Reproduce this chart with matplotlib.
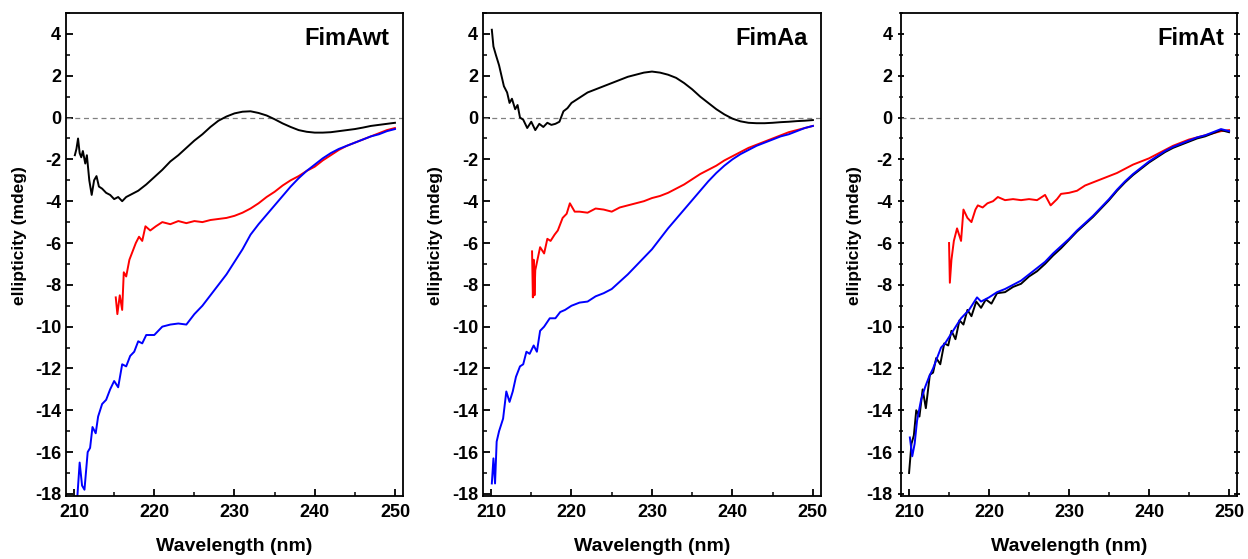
import matplotlib
matplotlib.use("Agg")
from matplotlib import pyplot as plt
from matplotlib.ticker import MultipleLocator

plt.rcParams['font.family'] = ['Liberation Sans', 'DejaVu Sans']
plt.rcParams['font.weight'] = 'bold'
plt.rcParams['axes.unicode_minus'] = False

# ---- FimAwt ----
wt_black_x = [210.1, 210.3, 210.5, 210.7, 210.9, 211.1, 211.4, 211.6, 211.9, 212.2, 212.5, 212.8, 213.1, 213.5,
              214, 214.5, 215, 215.5, 216, 216.5, 217, 218, 219, 220, 221, 222, 223, 224, 225, 226, 227, 228,
              229, 230, 231, 232, 233, 234, 235, 236, 237, 238, 239, 240, 241, 242, 243, 244, 245, 246, 247,
              248, 249, 250]
wt_black_y = [-1.8, -1.5, -1.0, -1.7, -1.9, -1.6, -2.2, -1.8, -3.0, -3.7, -3.0, -2.8, -3.3, -3.4,
              -3.6, -3.7, -3.9, -3.8, -4.0, -3.8, -3.7, -3.5, -3.2, -2.85, -2.5, -2.1, -1.8, -1.45, -1.1, -0.8,
              -0.45, -0.15, 0.05, 0.2, 0.28, 0.3, 0.22, 0.1, -0.08, -0.28, -0.45, -0.6, -0.68, -0.72, -0.72,
              -0.7, -0.65, -0.6, -0.55, -0.48, -0.4, -0.35, -0.3, -0.25]
wt_red_x = [215.2, 215.4, 215.7, 216.0, 216.2, 216.5, 216.9, 217.3, 217.7, 218.1, 218.5, 218.9, 219.5, 220.2,
            221, 222, 223, 224, 225, 226, 227, 228, 229, 230, 231, 232, 233, 234, 235, 236, 237, 238, 239,
            240, 241, 242, 243, 244, 245, 246, 247, 248, 249, 250]
wt_red_y = [-8.6, -9.4, -8.5, -9.2, -7.4, -7.6, -6.8, -6.4, -6.0, -5.7, -5.9, -5.2, -5.4, -5.2,
            -5.0, -5.1, -4.95, -5.05, -4.95, -5.0, -4.9, -4.85, -4.8, -4.7, -4.55, -4.35, -4.1, -3.8, -3.55,
            -3.25, -3.0, -2.8, -2.55, -2.35, -2.05, -1.8, -1.55, -1.35, -1.2, -1.05, -0.9, -0.75, -0.6, -0.5]
wt_blue_x = [210.4, 210.7, 211.0, 211.3, 211.7, 212.0, 212.3, 212.7, 213.0, 213.5, 214.0, 214.5, 215.0, 215.5,
             216.0, 216.5, 217.0, 217.5, 218.0, 218.5, 219.0, 220, 221, 222, 223, 224, 225, 226, 227, 228, 229,
             230, 231, 232, 233, 234, 235, 236, 237, 238, 239, 240, 241, 242, 243, 244, 245, 246, 247, 248,
             249, 250]
wt_blue_y = [-18.2, -16.5, -17.6, -17.8, -16.0, -15.8, -14.8, -15.1, -14.3, -13.7, -13.5, -13.0, -12.6, -12.9,
             -11.8, -11.9, -11.4, -11.2, -10.7, -10.8, -10.4, -10.4, -10.0, -9.9, -9.85, -9.9, -9.4, -9.0,
             -8.5, -8.0, -7.5, -6.9, -6.3, -5.6, -5.1, -4.65, -4.2, -3.75, -3.3, -2.9, -2.55, -2.25, -1.95,
             -1.7, -1.5, -1.35, -1.2, -1.05, -0.9, -0.8, -0.65, -0.55]

# ---- FimAa ----
aa_black_x = [210.1, 210.3, 210.6, 211.0, 211.3, 211.6, 212.0, 212.3, 212.6, 213.0, 213.3, 213.6, 214.0, 214.5,
              215.0, 215.5, 216.0, 216.5, 217.0, 217.5, 218.0, 218.5, 219.0, 219.5, 220, 221, 222, 223, 224,
              225, 226, 227, 228, 229, 230, 231, 232, 233, 234, 235, 236, 237, 238, 239, 240, 241, 242, 243,
              244, 245, 246, 247, 248, 249, 250]
aa_black_y = [4.2, 3.4, 3.0, 2.5, 2.0, 1.5, 1.2, 0.7, 0.9, 0.4, 0.6, 0.0, -0.1, -0.5,
              -0.2, -0.6, -0.3, -0.45, -0.25, -0.35, -0.3, -0.2, 0.3, 0.45, 0.7, 0.95, 1.2, 1.35, 1.5,
              1.65, 1.8, 1.95, 2.05, 2.15, 2.2, 2.15, 2.05, 1.9, 1.65, 1.35, 1.0, 0.7, 0.4, 0.15, -0.05,
              -0.18, -0.25, -0.27, -0.27, -0.25, -0.22, -0.2, -0.17, -0.15, -0.12]
aa_red_x = [215.1, 215.2, 215.3, 215.4, 215.5, 216.1, 216.6, 217.0, 217.4, 217.9, 218.3, 218.9, 219.4, 219.8,
            220.4, 221, 222, 223, 224, 225, 226, 227, 228, 229, 230, 231, 232, 233, 234, 235, 236, 237, 238,
            239, 240, 241, 242, 243, 244, 245, 246, 247, 248, 249, 250]
aa_red_y = [-6.4, -8.6, -6.8, -8.5, -7.3, -6.2, -6.5, -5.8, -5.9, -5.6, -5.4, -4.8, -4.6, -4.1,
            -4.5, -4.5, -4.55, -4.35, -4.4, -4.5, -4.3, -4.2, -4.1, -4.0, -3.85, -3.75, -3.6, -3.4, -3.2,
            -2.95, -2.7, -2.5, -2.3, -2.05, -1.85, -1.65, -1.45, -1.3, -1.15, -1.0, -0.85, -0.7, -0.6,
            -0.5, -0.4]
aa_blue_x = [210.1, 210.3, 210.5, 210.7, 211.0, 211.5, 211.9, 212.3, 212.7, 213.1, 213.6, 214.0, 214.4, 214.8,
             215.3, 215.7, 216.1, 216.6, 217.3, 218.0, 218.6, 219.2, 220, 221, 222, 223, 224, 225, 226, 227,
             228, 229, 230, 231, 232, 233, 234, 235, 236, 237, 238, 239, 240, 241, 242, 243, 244, 245, 246,
             247, 248, 249, 250]
aa_blue_y = [-17.5, -16.3, -17.5, -15.5, -15.0, -14.4, -13.1, -13.6, -13.1, -12.4, -11.9, -11.8, -11.2, -11.3,
             -10.9, -11.2, -10.2, -10.0, -9.6, -9.6, -9.3, -9.2, -9.0, -8.85, -8.8, -8.55, -8.4, -8.2, -7.85,
             -7.5, -7.1, -6.7, -6.3, -5.8, -5.3, -4.85, -4.4, -3.95, -3.5, -3.05, -2.65, -2.3, -2.0, -1.75,
             -1.55, -1.35, -1.2, -1.05, -0.9, -0.8, -0.65, -0.5, -0.4]

# ---- FimAt ----
at_red_x = [215.0, 215.1, 215.3, 215.6, 216.0, 216.5, 216.8, 217.3, 217.8, 218.3, 218.6, 219.2, 219.8, 220.5,
            221.1, 222, 223, 224, 225, 226, 227, 227.7, 228.5, 229, 230, 231, 232, 233, 234, 235, 236, 237,
            238, 239, 240, 241, 242, 243, 244, 245, 246, 247, 248, 249, 250]
at_red_y = [-6.0, -7.9, -6.8, -5.9, -5.3, -5.9, -4.4, -4.8, -5.0, -4.4, -4.2, -4.3, -4.1, -4.0,
            -3.8, -3.95, -3.9, -3.95, -3.9, -3.95, -3.7, -4.2, -3.9, -3.65, -3.6, -3.5, -3.25, -3.1, -2.95,
            -2.8, -2.65, -2.45, -2.25, -2.1, -1.95, -1.75, -1.55, -1.35, -1.2, -1.05, -0.95, -0.85, -0.75,
            -0.65, -0.6]
at_blue_x = [210.1, 210.4, 210.7, 211.0, 211.5, 212.0, 212.5, 213.0, 213.5, 214.0, 214.5, 215.0, 215.5, 216.0,
             216.5, 217.0, 217.5, 218.0, 218.5, 219.0, 219.5, 220, 221, 222, 223, 224, 225, 226, 227, 228, 229,
             230, 231, 232, 233, 234, 235, 236, 237, 238, 239, 240, 241, 242, 243, 244, 245, 246, 247, 248,
             249, 250]
at_blue_y = [-15.3, -16.2, -15.6, -14.5, -13.5, -12.9, -12.4, -12.0, -11.5, -11.0, -10.8, -10.5, -10.2, -9.9,
             -9.6, -9.4, -9.2, -8.9, -8.6, -8.8, -8.7, -8.6, -8.35, -8.2, -8.0, -7.8, -7.5, -7.2, -6.9, -6.5,
             -6.15, -5.8, -5.4, -5.05, -4.7, -4.3, -3.9, -3.45, -3.05, -2.7, -2.4, -2.1, -1.85, -1.6, -1.4,
             -1.25, -1.1, -0.95, -0.85, -0.7, -0.55, -0.65]
at_black_x = [210.0, 210.3, 210.6, 210.9, 211.3, 211.7, 212.1, 212.6, 213.0, 213.4, 213.9, 214.4, 214.9, 215.3,
              215.8, 216.3, 216.8, 217.3, 217.8, 218.4, 219.0, 219.6, 220.3, 221, 222, 223, 224, 225, 226, 227,
              228, 229, 230, 231, 232, 233, 234, 235, 236, 237, 238, 239, 240, 241, 242, 243, 244, 245, 246,
              247, 248, 249, 250]
at_black_y = [-17.0, -15.6, -15.2, -14.0, -14.3, -13.0, -13.9, -12.3, -12.2, -11.5, -11.8, -10.8, -10.9, -10.2,
              -10.6, -9.7, -9.9, -9.2, -9.5, -8.8, -9.1, -8.7, -8.9, -8.4, -8.35, -8.1, -7.95, -7.6, -7.35,
              -7.0, -6.6, -6.25, -5.85, -5.45, -5.1, -4.75, -4.35, -3.95, -3.5, -3.1, -2.75, -2.45, -2.15,
              -1.9, -1.65, -1.45, -1.3, -1.15, -1.0, -0.9, -0.75, -0.6, -0.7]

panel_names = ['FimAwt', 'FimAa', 'FimAt']
panels = [
    [(wt_black_x, wt_black_y, 'black'), (wt_red_x, wt_red_y, 'red'), (wt_blue_x, wt_blue_y, 'blue')],
    [(aa_black_x, aa_black_y, 'black'), (aa_red_x, aa_red_y, 'red'), (aa_blue_x, aa_blue_y, 'blue')],
    [(at_red_x, at_red_y, 'red'), (at_black_x, at_black_y, 'black'), (at_blue_x, at_blue_y, 'blue')],
]
lefts = [0.0529, 0.3870, 0.7220]
widths = [0.2700, 0.2708, 0.2692]

fig = plt.figure(figsize=(12.48, 5.59), dpi=100)
for i, name in enumerate(panel_names):
    ax = fig.add_axes([lefts[i], 0.1127, widths[i], 0.864])
    ax.axhline(0, color='#808080', linestyle=(0, (4, 3)), linewidth=0.9)
    for xs, ys, col in panels[i]:
        ax.plot(xs, ys, color=col, linewidth=1.4)
    ax.set_xlim(209, 251)
    ax.set_ylim(-18.1, 5)
    ax.xaxis.set_major_locator(MultipleLocator(10))
    ax.xaxis.set_minor_locator(MultipleLocator(5))
    ax.yaxis.set_major_locator(MultipleLocator(2))
    ax.yaxis.set_minor_locator(MultipleLocator(1))
    ax.tick_params(which='major', direction='in', length=5, width=1.3, labelsize=13)
    ax.tick_params(which='minor', direction='in', length=3, width=1.1)
    ax.tick_params(axis='x', which='major', pad=6)
    if i == 2:
        ax.tick_params(axis='y', which='both', right=True, direction='inout')
    for lab in ax.get_xticklabels() + ax.get_yticklabels():
        lab.set_fontweight('bold')
    for sp in ax.spines.values():
        sp.set_linewidth(1.3)
    ax.set_xlabel('Wavelength (nm)', fontsize=14, fontweight='bold', labelpad=12)
    ax.set_ylabel('ellipticity (mdeg)', fontsize=12.5, fontweight='bold')
    ax.yaxis.set_label_coords(-0.117, 0.54)
    ax.text(0.961, 0.948, name, transform=ax.transAxes, ha='right', va='center',
            fontsize=17, fontweight='bold')

fig.savefig('out.png', dpi=100)
